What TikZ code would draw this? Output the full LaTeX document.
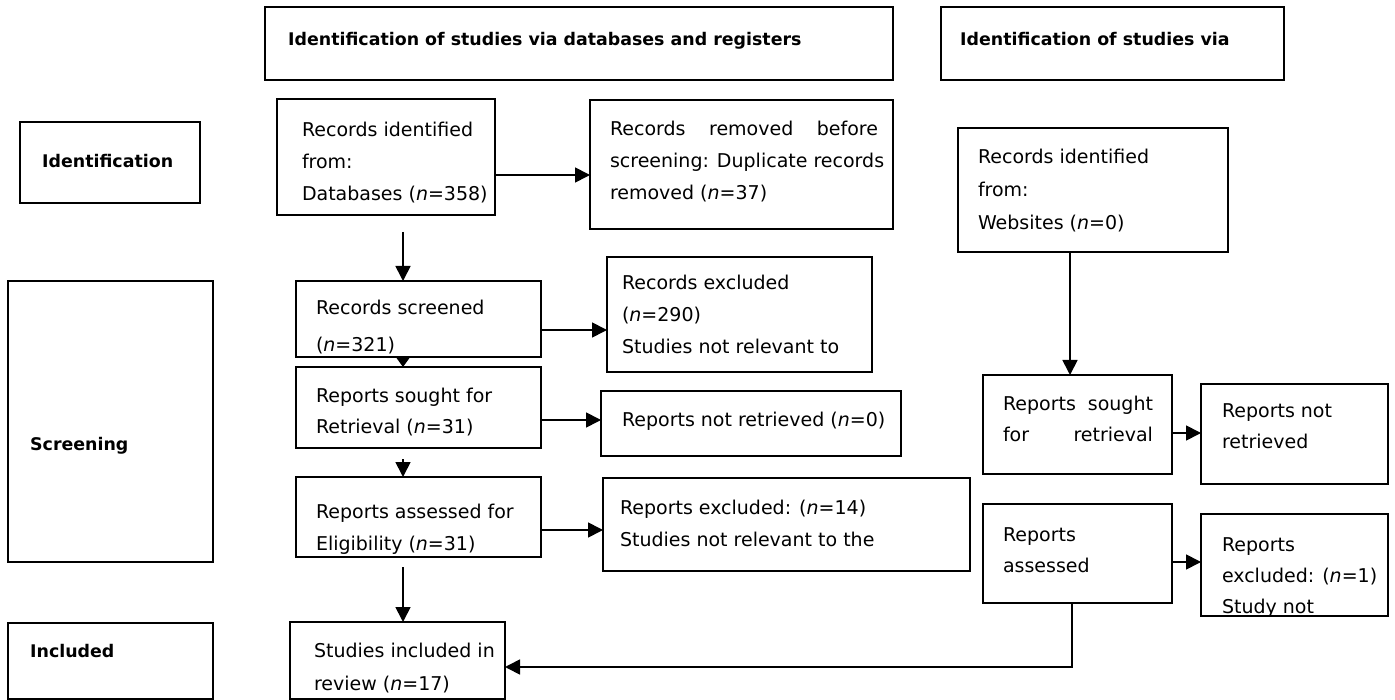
\documentclass[tikz,border=0pt]{standalone}
\usepackage{fontspec}
\setmainfont{DejaVu Sans}
\usetikzlibrary{arrows.meta,calc}
\newcommand\mkbox[5]{%
  \node[box,minimum width={(#4-#2)*1pt},minimum height={(#5-#3)*1pt}] (#1) at ({(#2+#4)/2},{(#3+#5)/2}) {};}
\newcommand\mktext[5]{% name, x, first baseline, skip, text
  \begin{scope}
    \clip (#1.south west) rectangle (#1.north east);
    \node[txt,font=\fontsize{19}{#4}\selectfont] (#1-t) at (#2,#3-15) {\rule{0pt}{15pt}#5};
  \end{scope}}
\begin{document}
\begin{tikzpicture}[x=1pt,y=-1pt,
  box/.style={draw,line width=1.7pt,inner sep=0pt,outer sep=0pt},
  txt/.style={inner sep=0pt,outer sep=0pt,anchor=north west,align=left},
  lbl/.style={inner sep=0pt,anchor=base west,font=\fontsize{17.4}{20}\selectfont\bfseries},
  arr/.style={line width=1.7pt,-{Triangle[length=15pt,width=15pt]}},
  arrs/.style={line width=1.7pt,-{Triangle[length=10pt,width=14pt]}}]
\useasboundingbox (0,0) rectangle (1395,700);
% headers and stage labels
\mkbox{h1}{265}{7}{893}{80}
\node[lbl] (h1-t) at (288,46) {Identification of studies via databases and registers};
\mkbox{h2}{941}{7}{1284}{80}
\node[lbl] (h2-t) at (960,46) {Identification of studies via};
\mkbox{sid}{20}{122}{200}{203}
\node[lbl] (sid-t) at (42,168) {Identification};
\mkbox{sscr}{8}{281}{213}{562}
\node[lbl] (sscr-t) at (30,450) {Screening};
\mkbox{sinc}{8}{623}{213}{699}
\node[lbl] (sinc-t) at (30,657) {Included};
% left column
\mkbox{recid}{277}{99}{495}{215}
\mktext{recid}{302}{137}{32}{Records identified\\from:\\Databases (\textit{n}=358)}
\mkbox{removed}{590}{100}{893}{229}
\mktext{removed}{610}{136}{32}{\hbox to 268pt{Records\hfill removed\hfill before}\\screening: Duplicate records\\removed (\textit{n}=37)}
\mkbox{screened}{296}{281}{541}{357}
\mktext{screened}{316}{315}{37}{Records screened\\(\textit{n}=321)}
\mkbox{excluded}{607}{257}{872}{372}
\mktext{excluded}{622}{290}{32}{Records excluded\\(\textit{n}=290)\\Studies not relevant to}
\mkbox{sought}{296}{367}{541}{448}
\mktext{sought}{316}{402}{32}{Reports sought for\\Retrieval (\textit{n}=31)}
\mkbox{notretr}{601}{391}{901}{456}
\mktext{notretr}{622}{426}{32}{Reports not retrieved (\textit{n}=0)}
\mkbox{assessed}{296}{477}{541}{557}
\mktext{assessed}{316}{518}{32}{Reports assessed for\\Eligibility (\textit{n}=31)}
\mkbox{repexcl}{603}{478}{970}{571}
\mktext{repexcl}{620}{514}{32}{Reports excluded: (\textit{n}=14)\\Studies not relevant to the}
\mkbox{included}{290}{622}{505}{699}
\mktext{included}{314}{657}{33}{Studies included in\\review (\textit{n}=17)}
% right column
\mkbox{web}{958}{128}{1228}{252}
\mktext{web}{978}{164}{33}{Records identified\\from:\\Websites (\textit{n}=0)}
\mkbox{rsought}{983}{375}{1172}{474}
\mktext{rsought}{1003}{410}{32}{\hbox to 150pt{Reports\hfill sought}\\\hbox to 150pt{for\hfill retrieval}}
\mkbox{rnot}{1201}{384}{1388}{484}
\mktext{rnot}{1222}{417}{32}{Reports not\\retrieved}
\mkbox{rassess}{983}{504}{1172}{603}
\mktext{rassess}{1003}{541}{31}{Reports\\assessed}
\mkbox{rexcl}{1201}{514}{1388}{616}
\mktext{rexcl}{1222}{551}{31}{Reports\\excluded: (\textit{n}=1)\\Study not}
% connectors
\coordinate (cx) at (403,0);
\coordinate (cxr) at (1070,0);
\coordinate (cxf) at (1072,0);
\coordinate (y1) at (0,175);
\coordinate (y2) at (0,330);
\coordinate (y3) at (0,420);
\coordinate (y4) at (0,530);
\coordinate (y5) at (0,433);
\coordinate (y6) at (0,562);
\coordinate (yf) at (0,667);
\coordinate (ya) at (0,232);
\coordinate (yb) at (0,459);
\coordinate (yc) at (0,567);
\draw[arr] (recid.east |- y1) -- (removed.west |- y1);
\draw[arr] (cx |- ya) -- (screened.north -| cx);
\draw[arr] (screened.east |- y2) -- (excluded.west |- y2);
\draw[arrs] (screened.south -| cx) -- (sought.north -| cx);
\draw[arr] (sought.east |- y3) -- (notretr.west |- y3);
\draw[arr] (cx |- yb) -- (assessed.north -| cx);
\draw[arr] (assessed.east |- y4) -- (repexcl.west |- y4);
\draw[arr] (cx |- yc) -- (included.north -| cx);
\draw[arr] (web.south -| cxr) -- (rsought.north -| cxr);
\draw[arr] (rsought.east |- y5) -- (rnot.west |- y5);
\draw[arr] (rassess.east |- y6) -- (rexcl.west |- y6);
\draw[arr] (rassess.south -| cxf) |- (included.east |- yf);
\end{tikzpicture}
\end{document}
